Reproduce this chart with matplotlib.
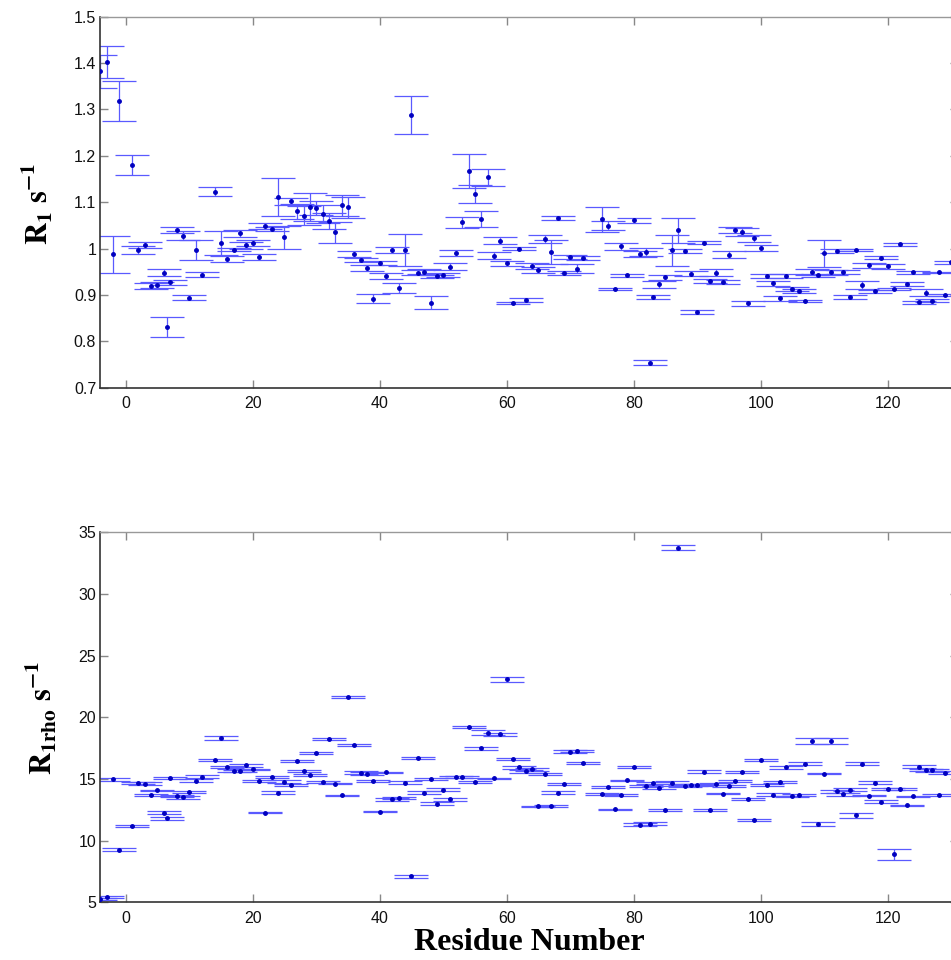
import numpy as np
import matplotlib
matplotlib.use("Agg")
import matplotlib.pyplot as plt
from matplotlib.ticker import FuncFormatter

# residue numbers (R1 panel has one more point at the right edge)
res_r1 = [-4, -3, -2, -1, 1, 2, 3, 4, 5, 6,
          6.5, 7, 8, 9, 10, 11, 12, 14, 15, 16,
          17, 18, 19, 20, 21, 22, 23, 24, 25, 26,
          27, 28, 29, 30, 31, 32, 33, 34, 35, 36,
          37, 38, 39, 40, 41, 42, 43, 44, 45, 46,
          47, 48, 49, 50, 51, 52, 53, 54, 55, 56,
          57, 58, 59, 60, 61, 62, 63, 64, 65, 66,
          67, 68, 69, 70, 71, 72, 75, 76, 77, 78,
          79, 80, 81, 82, 82.5, 83, 84, 85, 86, 87,
          88, 89, 90, 91, 92, 93, 94, 95, 96, 97,
          98, 99, 100, 101, 102, 103, 104, 105, 106, 107,
          108, 109, 110, 111, 112, 113, 114, 115, 116, 117,
          118, 119, 120, 121, 122, 123, 124, 125, 126, 127,
          128, 129, 130]

r1 = [1.382, 1.402, 0.988, 1.319, 1.180, 0.997, 1.008, 0.919, 0.921, 0.948,
      0.831, 0.927, 1.040, 1.028, 0.894, 0.997, 0.944, 1.123, 1.012, 0.977,
      0.998, 1.033, 1.007, 1.012, 0.982, 1.049, 1.042, 1.112, 1.024, 1.102,
      1.080, 1.071, 1.090, 1.087, 1.075, 1.059, 1.035, 1.093, 1.089, 0.988,
      0.975, 0.958, 0.892, 0.969, 0.941, 0.997, 0.915, 0.997, 1.288, 0.948,
      0.950, 0.883, 0.940, 0.943, 0.961, 0.991, 1.057, 1.168, 1.118, 1.064,
      1.154, 0.985, 1.017, 0.968, 0.882, 1.000, 0.889, 0.962, 0.954, 1.021,
      0.993, 1.066, 0.948, 0.982, 0.957, 0.979, 1.063, 1.049, 0.913, 1.005,
      0.942, 1.061, 0.988, 0.993, 0.754, 0.895, 0.923, 0.938, 0.996, 1.040,
      0.995, 0.946, 0.863, 1.013, 0.930, 0.948, 0.928, 0.987, 1.040, 1.036,
      0.882, 1.022, 1.001, 0.941, 0.925, 0.893, 0.941, 0.913, 0.908, 0.887,
      0.949, 0.942, 0.990, 0.949, 0.995, 0.949, 0.895, 0.997, 0.922, 0.964,
      0.908, 0.980, 0.962, 0.912, 1.009, 0.924, 0.949, 0.884, 0.905, 0.888,
      0.949, 0.900, 0.970]

r1_err = [0.035, 0.035, 0.040, 0.043, 0.022, 0.009, 0.007, 0.006, 0.007, 0.007,
          0.021, 0.006, 0.006, 0.009, 0.005, 0.021, 0.006, 0.010, 0.026, 0.006,
          0.003, 0.007, 0.007, 0.006, 0.007, 0.006, 0.004, 0.041, 0.024, 0.007,
          0.016, 0.020, 0.030, 0.015, 0.020, 0.017, 0.023, 0.022, 0.023, 0.007,
          0.005, 0.006, 0.010, 0.005, 0.006, 0.007, 0.010, 0.034, 0.042, 0.005,
          0.005, 0.014, 0.003, 0.005, 0.007, 0.006, 0.012, 0.037, 0.020, 0.017,
          0.018, 0.008, 0.008, 0.005, 0.002, 0.004, 0.004, 0.006, 0.006, 0.009,
          0.026, 0.004, 0.004, 0.004, 0.010, 0.004, 0.027, 0.010, 0.002, 0.008,
          0.004, 0.005, 0.006, 0.009, 0.005, 0.004, 0.007, 0.006, 0.034, 0.027,
          0.005, 0.006, 0.004, 0.003, 0.005, 0.007, 0.004, 0.007, 0.006, 0.009,
          0.005, 0.007, 0.006, 0.004, 0.005, 0.005, 0.005, 0.005, 0.004, 0.003,
          0.006, 0.003, 0.029, 0.005, 0.005, 0.004, 0.004, 0.003, 0.009, 0.005,
          0.003, 0.003, 0.005, 0.002, 0.003, 0.004, 0.003, 0.004, 0.007, 0.003,
          0.001, 0.003, 0.004]

res_r1rho = res_r1[:-1]

r1rho = [5.27, 5.43, 14.97, 9.27, 11.19, 14.65, 14.62, 13.70, 14.08, 12.27,
         11.81, 15.08, 13.62, 13.51, 13.95, 14.86, 15.19, 16.54, 18.32, 15.95,
         15.68, 15.68, 16.11, 15.78, 14.81, 12.27, 15.19, 13.89, 14.78, 14.49,
         16.46, 15.65, 15.32, 17.08, 14.76, 18.27, 14.62, 13.68, 21.68, 17.73,
         15.51, 15.43, 14.86, 12.35, 15.54, 13.35, 13.43, 14.68, 7.11, 16.70,
         13.89, 14.97, 13.00, 14.14, 13.35, 15.14, 15.16, 19.19, 14.76, 17.49,
         18.76, 15.05, 18.62, 23.08, 16.65, 15.95, 15.62, 15.78, 12.78, 15.38,
         12.78, 13.89, 14.59, 17.22, 17.27, 16.30, 13.78, 14.35, 12.54, 13.73,
         14.89, 15.95, 11.27, 14.43, 11.38, 14.64, 14.30, 12.49, 14.68, 33.76,
         14.41, 14.51, 14.51, 15.59, 12.49, 14.59, 13.81, 14.43, 14.84, 15.54,
         13.38, 11.68, 16.54, 14.51, 13.73, 14.78, 15.95, 13.59, 13.73, 16.22,
         18.08, 11.38, 15.43, 18.08, 14.00, 13.76, 14.14, 12.05, 16.22, 13.65,
         14.70, 13.16, 14.16, 8.89, 14.16, 12.86, 13.59, 16.00, 15.73, 15.70,
         13.70, 15.51]

r1rho_err = [0.10, 0.10, 0.13, 0.10, 0.08, 0.08, 0.10, 0.08, 0.06, 0.10,
             0.12, 0.06, 0.08, 0.12, 0.10, 0.10, 0.10, 0.08, 0.14, 0.10,
             0.10, 0.08, 0.12, 0.06, 0.08, 0.06, 0.08, 0.12, 0.10, 0.10,
             0.08, 0.10, 0.10, 0.08, 0.06, 0.08, 0.06, 0.06, 0.08, 0.08,
             0.12, 0.12, 0.08, 0.06, 0.06, 0.10, 0.08, 0.12, 0.10, 0.10,
             0.10, 0.08, 0.10, 0.12, 0.12, 0.10, 0.08, 0.08, 0.06, 0.12,
             0.20, 0.06, 0.14, 0.19, 0.08, 0.12, 0.12, 0.10, 0.06, 0.08,
             0.08, 0.12, 0.08, 0.10, 0.06, 0.06, 0.06, 0.10, 0.06, 0.08,
             0.06, 0.08, 0.12, 0.06, 0.10, 0.08, 0.10, 0.06, 0.12, 0.18,
             0.08, 0.10, 0.10, 0.10, 0.06, 0.08, 0.06, 0.10, 0.08, 0.08,
             0.06, 0.06, 0.08, 0.08, 0.10, 0.08, 0.12, 0.06, 0.08, 0.12,
             0.22, 0.16, 0.06, 0.22, 0.10, 0.12, 0.12, 0.23, 0.12, 0.06,
             0.12, 0.12, 0.08, 0.43, 0.08, 0.06, 0.06, 0.10, 0.08, 0.10,
             0.10, 0.10]

plt.rcParams["font.family"] = ["Liberation Sans", "DejaVu Sans"]
plt.rcParams["mathtext.fontset"] = "stix"

W, H = 951, 960
fig = plt.figure(figsize=(W / 100, H / 100), dpi=100)


def px_axes(left, top, right, bottom):
    return fig.add_axes([left / W, 1 - bottom / H, (right - left) / W, (bottom - top) / H])


def style(ax):
    for side in ("left", "bottom"):
        ax.spines[side].set_color("#333333")
        ax.spines[side].set_linewidth(1.2)
    for side in ("top", "right"):
        ax.spines[side].set_color("#999999")
        ax.spines[side].set_linewidth(1.0)
    ax.tick_params(direction="in", length=6, width=1, color="#888888",
                   top=True, right=True, labelsize=11.5, labelcolor="#111111")
    ax.tick_params(axis="x", pad=6)
    ax.tick_params(axis="y", pad=3)
    ax.set_xlim(-4, 131)
    ax.set_xticks(range(0, 140, 20))


bar_kw = dict(fmt="none", ecolor="#5a5aff", elinewidth=0.9, capsize=12, capthick=0.9)
dot_kw = dict(ls="", marker="o", markersize=2.5, color="#0000c0", zorder=3)

ax0 = px_axes(100.3, 16.7, 957.6, 387.7)
ax0.errorbar(res_r1, r1, yerr=r1_err, **bar_kw)
ax0.plot(res_r1, r1, **dot_kw)
ax0.set_ylim(0.7, 1.5)
ax0.set_yticks(np.arange(0.7, 1.51, 0.1))
ax0.yaxis.set_major_formatter(FuncFormatter(lambda v, p: f"{v:g}"))
style(ax0)

ax1 = px_axes(100.3, 532.3, 957.6, 902.3)
ax1.errorbar(res_r1rho, r1rho, yerr=r1rho_err, **bar_kw)
ax1.plot(res_r1rho, r1rho, **dot_kw)
ax1.set_ylim(5, 35)
ax1.set_yticks(range(5, 36, 5))
style(ax1)

fig.text(37.5 / W, 1 - 204 / H, r"$\mathbf{R_1\ s^{-1}}$", rotation=90,
         ha="center", va="center", fontsize=22)
fig.text(42 / W, 1 - 718 / H, r"$\mathbf{R_{1rho}\ s^{-1}}$", rotation=90,
         ha="center", va="center", fontsize=22)
fig.text(529 / W, 1 - 943 / H, "Residue Number", ha="center", va="center",
         fontsize=23, fontweight="bold", family="Liberation Serif")

fig.savefig("out.png", dpi=100)
